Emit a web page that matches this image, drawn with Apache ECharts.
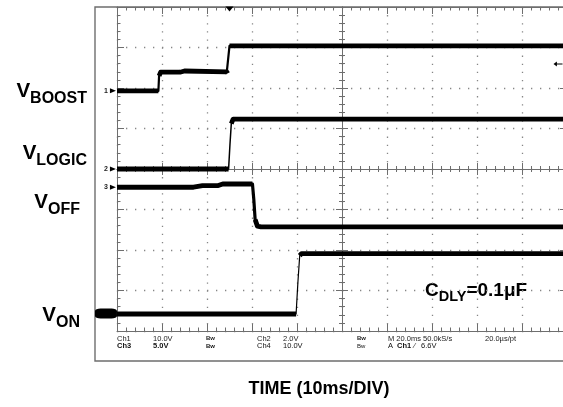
<!DOCTYPE html>
<html><head><meta charset="utf-8">
<script src="https://cdn.jsdelivr.net/npm/echarts@6/dist/echarts.min.js"></script>
<style>html,body{margin:0;padding:0;background:#fff}#c{width:563px;height:407px}</style>
</head><body><div id="c"></div>
<script>
// ---- DATA (time in ms, 10 ms/div; level in divisions, 0 = bottom graticule line, 8 = top) ----
const vboostT = [0, 9.2, 9.35, 9.7, 14, 15, 24.4, 24.6, 24.75, 25.0, 100];
const vboostV = [5.93, 5.93, 6.30, 6.39, 6.39, 6.42, 6.40, 6.36, 6.42, 7.04, 7.04];
const vlogicT = [0, 10, 20, 24.8, 25.1, 25.4, 25.8, 100];
const vlogicV = [4.0, 4.0, 4.0, 4.0, 4.6, 5.12, 5.23, 5.23];
const voffT = [0, 17, 19, 22.5, 23.5, 30.1, 30.4, 30.7, 31.2, 32, 100];
const voffV = [3.55, 3.55, 3.59, 3.59, 3.63, 3.63, 3.25, 2.75, 2.59, 2.57, 2.57];
const vonT = [0, 20, 39.8, 40.2, 40.6, 41.0, 100];
const vonV = [0.42, 0.42, 0.42, 1.2, 1.86, 1.91, 1.91];
const vonGroundT = [-2.45];
const vonGroundV = [0.43];
const chMarkT = [-0.9, -0.9, -0.9];
const chMarkV = [5.93, 4.0, 3.55];
const chMarkTxt = ['1', '2', '3'];
const trigPosT = [25];
const trigPosV = [8];
const trigLevelT = [98];
const trigLevelV = [6.59];
const sideMain = ['V', 'V', 'V', 'V'];
const sideSub = ['BOOST', 'LOGIC', 'OFF', 'ON'];
const noteMain = 'C', noteSub = 'DLY', noteRest = '=0.1μF';
const xTitle = 'TIME (10ms/DIV)';
const readRow1 = ['Ch1', '10.0V', 'Bw', 'Ch2', '2.0V', 'Bw', 'M 20.0ms 50.0kS/s', '20.0µs/pt'];
const readRow2 = ['Ch3', '5.0V', 'Bw', 'Ch4', '10.0V', 'Bw', 'A', 'Ch1', '⁄', '6.6V'];

// ---- STYLE / LAYOUT ----
const GRID = '#6e6e6e', DOT = '#868686', FONT = '"Liberation Sans", Arial, sans-serif';
const edgeWidths = [2.2, 1.5, 3.2, 1.2];
const THICK = 4.8;
const readX1 = [117, 153, 206, 257, 283, 357, 388, 485];
const readX2 = [117, 153, 206, 257, 283, 357, 388, 397, 414, 421];
const readBold2 = [true, true, true, false, false, false, false, true, false, false];
const sideMainY = [91.8, 153.8, 202.8, 315.8];
const sideRight = [87, 87, 80, 80];

const chart = echarts.init(document.getElementById('c'));
const mctx = document.createElement('canvas').getContext('2d');
function tw(txt, size) { mctx.font = 'bold ' + size + 'px ' + FONT; return mctx.measureText(txt).width; }

function axisX(position, offset, major, minor, split) {
  return {type: 'value', min: 0, max: 100, interval: 10, position: position, offset: offset, silent: true,
    axisLine: {show: true, onZero: false, lineStyle: {color: GRID, width: 1}},
    axisTick: {show: true, inside: true, length: major, lineStyle: {color: GRID, width: 1}},
    minorTick: {show: true, splitNumber: 5, length: minor, lineStyle: {color: GRID, width: 1}},
    axisLabel: {show: false},
    splitLine: {show: split, lineStyle: {color: DOT, width: 1.3, type: [1.3, 6.8]}},
    minorSplitLine: {show: false}, axisPointer: {show: false}};
}
function axisY(position, offset, major, minor, split) {
  return {type: 'value', min: 0, max: 8, interval: 1, position: position, offset: offset, silent: true,
    axisLine: {show: true, onZero: false, lineStyle: {color: GRID, width: 1}},
    axisTick: {show: true, inside: true, length: major, lineStyle: {color: GRID, width: 1}},
    minorTick: {show: true, splitNumber: 5, length: minor, lineStyle: {color: GRID, width: 1}},
    axisLabel: {show: false},
    splitLine: {show: split, lineStyle: {color: DOT, width: 1.3, type: [1.3, 7.7]}},
    minorSplitLine: {show: false}, axisPointer: {show: false}};
}

function zip(t, v) { return t.map((x, i) => [x, v[i]]); }
function traceSeries(t, v, edgeW) {
  const thick = [];
  for (let i = 0; i < t.length; i++) {
    thick.push([t[i], v[i]]);
    if (i < t.length - 1) {
      const slope = Math.abs((v[i + 1] - v[i]) / (t[i + 1] - t[i]));
      if (slope > 0.8) thick.push([(t[i] + t[i + 1]) / 2, null]);
    }
  }
  return [
    {type: 'line', data: zip(t, v), symbol: 'none', silent: true, z: 5,
      lineStyle: {color: '#000', width: edgeW, join: 'round'}},
    {type: 'line', data: thick, symbol: 'none', silent: true, connectNulls: false, z: 6,
      lineStyle: {color: '#000', width: THICK, join: 'round', cap: 'butt'}}
  ];
}

const series = [].concat(
  traceSeries(vboostT, vboostV, edgeWidths[0]),
  traceSeries(vlogicT, vlogicV, edgeWidths[1]),
  traceSeries(voffT, voffV, edgeWidths[2]),
  traceSeries(vonT, vonV, edgeWidths[3]),
  [
    {type: 'scatter', data: zip(vonGroundT, vonGroundV), clip: false, silent: true, z: 7,
      symbol: 'roundRect', symbolSize: [22, 10], itemStyle: {color: '#000', opacity: 1}},
    {type: 'scatter', data: chMarkT.map((x, i) => ({value: [x, chMarkV[i]], label: {formatter: chMarkTxt[i]}})),
      clip: false, silent: true, z: 7,
      symbol: 'path://M0,0 L10,5 L0,10 Z', symbolSize: [6, 5], itemStyle: {color: '#000', opacity: 1},
      label: {show: true, position: 'left', distance: 2, fontSize: 7, fontWeight: 'bold', color: '#222', fontFamily: FONT}},
    {type: 'scatter', data: zip(trigPosT, trigPosV), clip: false, silent: true, z: 7,
      symbol: 'triangle', symbolRotate: 180, symbolSize: [8, 5], symbolOffset: [0, 2], itemStyle: {color: '#000', opacity: 1}},
    {type: 'scatter', data: zip(trigLevelT, trigLevelV), clip: false, silent: true, z: 7,
      symbol: 'path://M0,5 L6,0 L6,10 Z M6,4 L16,4 L16,6 L6,6 Z', symbolSize: [9, 5], itemStyle: {color: '#000', opacity: 1}}
  ]
);

const graphic = [];
graphic.push({type: 'rect', silent: true, z: -10, shape: {x: 95, y: 7, width: 520, height: 354},
  style: {fill: 'none', stroke: '#6e6e6e', lineWidth: 1.4}});
const MAIN = 20.5, SUB = 16;
for (let i = 0; i < sideMain.length; i++) {
  const R = sideRight[i];
  const ws = tw(sideSub[i], SUB), wm = tw(sideMain[i], MAIN);
  graphic.push({type: 'text', silent: true, x: R - ws - wm, y: sideMainY[i],
    style: {text: sideMain[i], font: 'bold ' + MAIN + 'px ' + FONT, fill: '#000', verticalAlign: 'middle', align: 'left'}});
  graphic.push({type: 'text', silent: true, x: R - ws, y: sideMainY[i] + 6.8,
    style: {text: sideSub[i], font: 'bold ' + SUB + 'px ' + FONT, fill: '#000', verticalAlign: 'middle', align: 'left'}});
}
// C_DLY note
(function () {
  const NM = 19, NS = 14.5;
  const x0 = 425, yc = 290.8;
  const w1 = tw(noteMain, NM), w2 = tw(noteSub, NS);
  graphic.push({type: 'text', silent: true, x: x0, y: yc,
    style: {text: noteMain, font: 'bold ' + NM + 'px ' + FONT, fill: '#000', verticalAlign: 'middle'}});
  graphic.push({type: 'text', silent: true, x: x0 + w1, y: yc + 6.6,
    style: {text: noteSub, font: 'bold ' + NS + 'px ' + FONT, fill: '#000', verticalAlign: 'middle'}});
  graphic.push({type: 'text', silent: true, x: x0 + w1 + w2, y: yc,
    style: {text: noteRest, font: 'bold ' + NM + 'px ' + FONT, fill: '#000', verticalAlign: 'middle'}});
})();
graphic.push({type: 'text', silent: true, x: 319, y: 389.5,
  style: {text: xTitle, font: 'bold 18px ' + FONT, fill: '#000', align: 'center', verticalAlign: 'middle'}});
readRow1.forEach((s, i) => graphic.push({type: 'text', silent: true, x: readX1[i], y: 338.5,
  style: {text: s, font: (s === 'Bw' ? 'bold 6px ' : '7.5px ') + FONT, fill: '#222', verticalAlign: 'middle'}}));
readRow2.forEach((s, i) => graphic.push({type: 'text', silent: true, x: readX2[i], y: 346,
  style: {text: s, font: (readBold2[i] ? 'bold ' : '') + (s === 'Bw' ? '6px ' : '7.5px ') + FONT, fill: '#111', verticalAlign: 'middle'}}));

chart.setOption({
  animation: false,
  backgroundColor: '#fff',
  grid: {left: 117, top: 7, width: 450, height: 324, outerBoundsMode: 'none'},
  xAxis: [axisX('bottom', 0, 7, 3.5, true), axisX('top', 0, 7, 3.5, false),
          axisX('bottom', -162, 6, 3, false), axisX('top', -162, 6, 3, false)],
  yAxis: [axisY('left', 0, 7, 3.5, true), axisY('right', 0, 7, 3.5, false),
          axisY('left', -225, 6, 3, false), axisY('right', -225, 6, 3, false)],
  series: series,
  graphic: graphic
});
</script></body></html>
